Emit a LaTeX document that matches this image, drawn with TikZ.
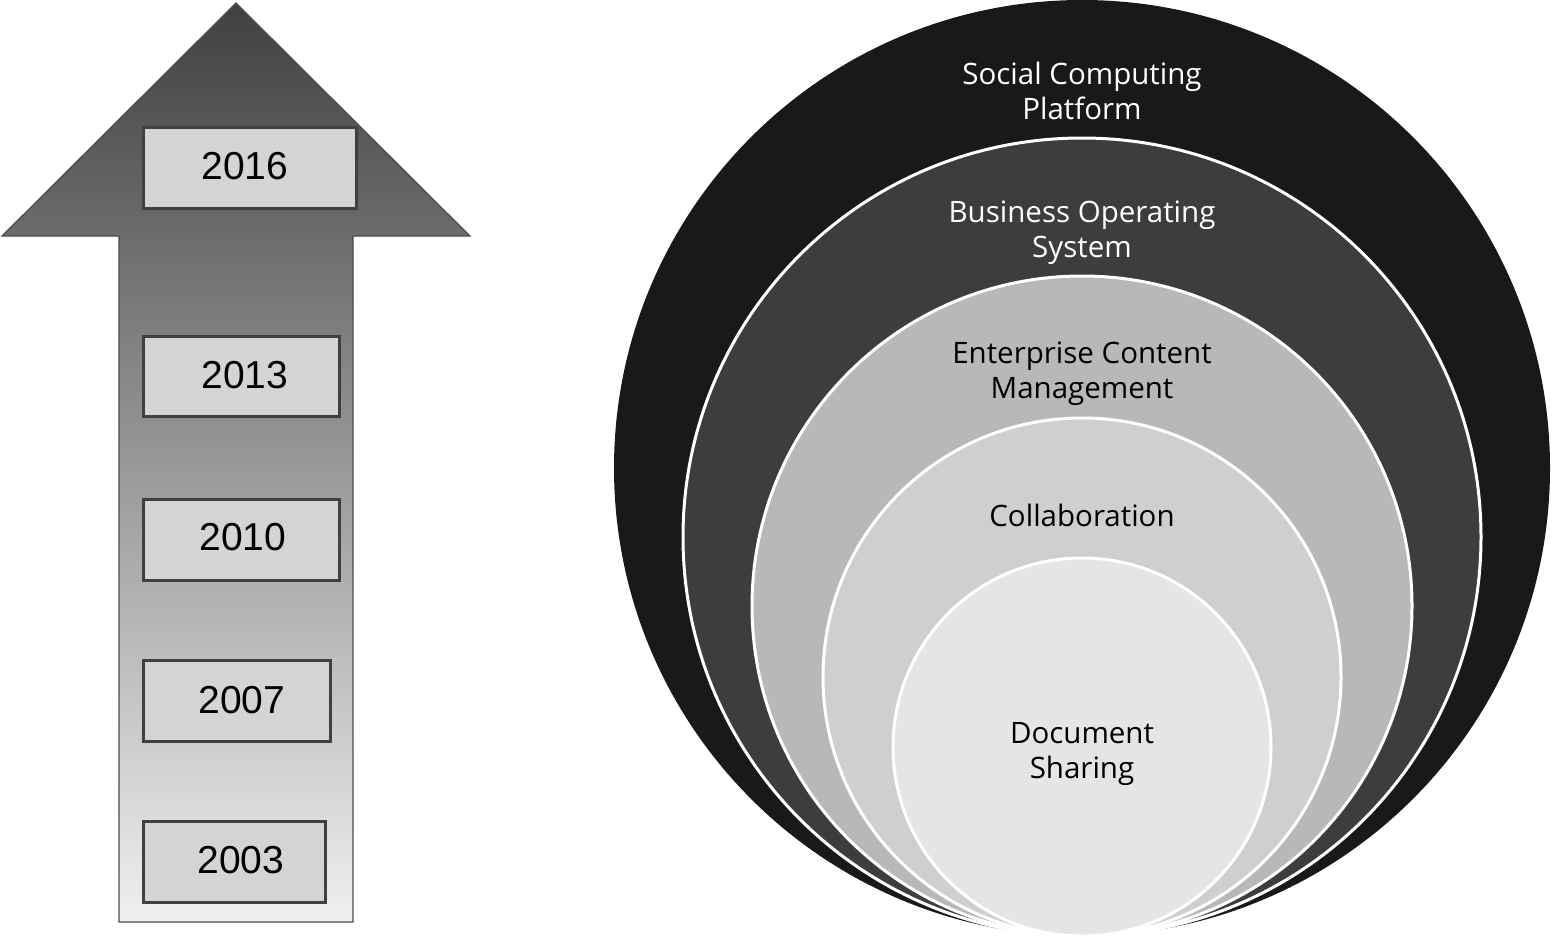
\documentclass[tikz,border=0pt]{standalone}
\usepackage{fontspec}
\setmainfont{Liberation Sans}
\newfontfamily\lblfont{Open Sans}
\begin{document}
\begin{tikzpicture}[x=1pt,y=-1pt,
  yearbox/.style={draw=black!75,line width=2.5pt,fill=black!17,inner sep=0pt,anchor=north west,font=\fontsize{39}{39}\selectfont},
  ring/.style={circle,draw=white,line width=3pt,inner sep=0pt},
  ringtext/.style={font=\lblfont\fontsize{29.5}{35}\selectfont,align=center,inner sep=0pt}]
\useasboundingbox (0,0) rectangle (1552,938);
% arrow
\shade[top color=black!75,bottom color=black!6]
  (236,3) -- (470,236) -- (353,236) -- (353,922) -- (119,922) -- (119,236) -- (2,236) -- cycle;
\draw[black!70,line width=1.2pt]
  (236,3) -- (470,236) -- (353,236) -- (353,922) -- (119,922) -- (119,236) -- (2,236) -- cycle;
% year boxes
\node[yearbox,minimum width=213pt,minimum height=81pt] (y2016) at (142,126) {};
\node[font=\fontsize{39}{39}\selectfont] (t2016) at (245,166) {2016};
\node[yearbox,minimum width=196pt,minimum height=80pt] (y2013) at (142,335) {};
\node[font=\fontsize{39}{39}\selectfont] (t2013) at (245,375) {2013};
\node[yearbox,minimum width=196pt,minimum height=81pt] (y2010) at (142,498) {};
\node[font=\fontsize{39}{39}\selectfont] (t2010) at (243,537) {2010};
\node[yearbox,minimum width=187pt,minimum height=81pt] (y2007) at (142,659) {};
\node[font=\fontsize{39}{39}\selectfont] (t2007) at (242,700) {2007};
\node[yearbox,minimum width=182pt,minimum height=81pt] (y2003) at (142,820) {};
\node[font=\fontsize{39}{39}\selectfont] (t2003) at (241,860) {2003};
% nested circles
\node[circle,fill=black!90,inner sep=0pt,minimum size=936pt] (c1) at (1082,468) {};
\node[ring,fill=black!76,minimum size=798pt] (c2) at (1082,537) {};
\node[ring,fill=black!28,minimum size=660pt] (c3) at (1082,606) {};
\node[ring,fill=black!19,minimum size=518pt] (c4) at (1082,677) {};
\node[ring,fill=black!10,minimum size=378pt] (c5) at (1082,747) {};
% labels
\node[ringtext,text=white] (l1) at (1082,91) {Social Computing\\Platform};
\node[ringtext,text=white] (l2) at (1082,233) {Business Operating\\System};
\node[ringtext] (l3) at (1082,374) {Enterprise Content\\Management};
\node[ringtext] (l4) at (1082,515) {Collaboration};
\node[ringtext] (l5) at (1082,754) {Document\\Sharing};
\end{tikzpicture}
\end{document}
